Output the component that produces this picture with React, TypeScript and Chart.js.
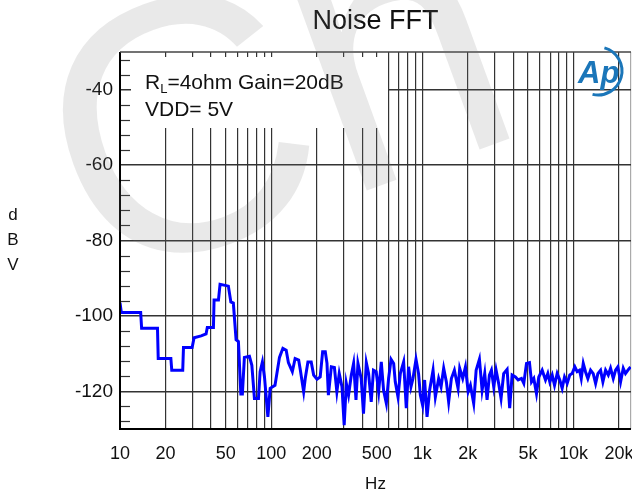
import React, { useEffect, useRef } from 'react';
import { Chart, registerables } from 'chart.js';

Chart.register(...registerables);

const FREQ_HZ = [
  10, 10.2, 13.7, 13.9, 17.7, 17.9, 21.7, 22.0, 26.0, 26.3, 30.0, 30.9, 34.4, 37.1, 37.8, 41.5, 41.9, 44.8,
  45.9, 49.6, 52.1, 54.1, 56.2, 58.6, 60.7, 63.0, 64.5, 66.5, 71.8, 74.5, 77.5, 82.4, 84.5, 87.5, 90.3, 95.1,
  98.5, 106, 113.5, 119.5, 125.7, 130, 138, 144, 152, 156, 164, 168, 175, 184, 191, 201, 211, 219, 228, 234,
  239, 250, 262, 272, 282, 294, 304, 314, 325, 339, 351, 364, 375, 394, 408, 426, 441, 459, 475, 495, 514,
  535, 554, 578, 598, 621, 646, 662, 690, 715, 752, 783, 811, 841, 867, 908, 944, 970, 1004, 1035, 1074,
  1117, 1177, 1219, 1282, 1330, 1384, 1442, 1493, 1556, 1629, 1723, 1766, 1849, 1928, 2009, 2079, 2186,
  2269, 2385, 2485, 2586, 2680, 2777, 2864, 2966, 3074, 3196, 3316, 3452, 3636, 3782, 3924, 4129, 4303,
  4526, 4688, 4886, 5112, 5274, 5460, 5689, 5892, 6203, 6526, 6761, 6969, 7228, 7488, 7798, 8113, 8413,
  8718, 9078, 9444, 9795, 10200, 10570, 10960, 11250, 11600, 12000, 12440, 12970, 13500, 14000, 14490,
  15100, 15640, 16300, 16980, 17580, 18320, 18970, 19650, 20480, 21330, 22080, 22910, 23840,
];

const LEVEL_DBV = [
  -96.5, -99.1, -99.1, -103.3, -103.3, -111.3, -111.3, -114.4, -114.4, -108.4, -108.4, -105.8, -105.3, -104.8,
  -103.1, -103.1, -95.8, -95.8, -91.6, -91.9, -92.1, -96.3, -96.6, -106.3, -106.8, -120.7, -120.7, -111,
  -110.7, -113.1, -121.9, -121.9, -114.8, -112.2, -116.2, -126.8, -119.2, -118.4, -111, -108.6, -109.1,
  -112.4, -114.8, -111.3, -111.7, -114.4, -120.1, -116.6, -112.2, -112.2, -115.7, -116.8, -116.2, -109.5,
  -109.5, -112.6, -121, -113.5, -113.7, -120.1, -115.3, -118.8, -129, -117.9, -121, -115.7, -112.6, -122.3,
  -112.6, -116.6, -125.9, -112.4, -115.3, -122.8, -114.4, -114.8, -120.1, -112.2, -119.7, -123.2, -116.6,
  -111.5, -112.6, -117.5, -121.5, -115.3, -112.2, -124.5, -113.5, -118.8, -116.6, -111.5, -115.3, -121,
  -123.7, -117, -126.8, -119.7, -114.4, -121.5, -116.6, -118.8, -113.9, -117.5, -122.8, -116.6, -114.4,
  -119.2, -113.9, -116.6, -113.5, -120.1, -118.4, -123.2, -114.4, -111.5, -119.7, -115.3, -122.3, -115.7,
  -114.4, -118.8, -114.4, -117.9, -121.9, -115.3, -114.2, -124.5, -115.7, -116.2, -117, -116.6, -117.9,
  -112.6, -112.4, -117.5, -116.6, -120.6, -116.2, -114.4, -117, -115.3, -117.5, -115.7, -118.4, -115.3,
  -117, -119.2, -116.2, -117.9, -115.7, -115.3, -113.5, -114.8, -114.4, -116.6, -112.6, -114.8, -116.6,
  -114.4, -115.3, -117.9, -115.3, -114.4, -117.5, -114.4, -115.7, -113.9, -116.6, -114.4, -113.5, -117.5,
  -113.9, -115.3, -114.4, -113.5,
];

const X_MIN_HZ = 10;
const X_MAX_HZ = 24000;
const X_GRID_HZ = [
  10, 20, 30, 40, 50, 60, 70, 80, 90,
  100, 200, 300, 400, 500, 600, 700, 800, 900,
  1000, 2000, 3000, 4000, 5000, 6000, 7000, 8000, 9000,
  10000, 20000, 24000,
];
const X_TICK_HZ = [10, 20, 50, 100, 200, 500, 1000, 2000, 5000, 10000, 20000];
const X_TICK_TEXT = ['10', '20', '50', '100', '200', '500', '1k', '2k', '5k', '10k', '20k'];
const Y_TICKS = [-120, -100, -80, -60, -40];
const Y_MINOR = [-128, -124, -116, -112, -108, -104, -96, -92, -88, -84, -76, -72, -68, -64, -56, -52, -48, -44, -36, -32];

const TITLE = 'Noise FFT';
const X_TITLE = 'Hz';
const Y_TITLE = ['d', 'B', 'V'];
const NOTE_LINE2 = 'VDD= 5V';
const WATERMARK = 'Ch';

const FONT = '"Liberation Sans", Arial, Helvetica, sans-serif';

const decorPlugin = {
  id: 'decor',
  beforeDatasetsDraw(chart: any) {
    const { ctx, chartArea: a, scales } = chart;
    ctx.save();
    ctx.fillStyle = '#ffffff';
    ctx.fillRect(a.left + 11, a.top + 5, 388 - (a.left + 11), 128 - (a.top + 5));
    ctx.strokeStyle = '#333';
    ctx.lineWidth = 1.2;
    for (const v of Y_MINOR) {
      const y = Math.round(scales.y.getPixelForValue(v)) + 0.5;
      ctx.beginPath();
      ctx.moveTo(a.left, y);
      ctx.lineTo(a.left + 10, y);
      ctx.stroke();
    }
    ctx.fillStyle = '#111';
    ctx.textBaseline = 'alphabetic';
    ctx.textAlign = 'left';
    ctx.font = `21px ${FONT}`;
    let x = 145;
    ctx.fillText('R', x, 89);
    x += ctx.measureText('R').width;
    ctx.font = `13px ${FONT}`;
    ctx.fillText('L', x, 93);
    x += ctx.measureText('L').width;
    ctx.font = `21px ${FONT}`;
    ctx.fillText('=4ohm Gain=20dB', x, 89);
    ctx.fillText(NOTE_LINE2, 145, 116);
    ctx.restore();
  },
  afterDraw(chart: any) {
    const { ctx, chartArea: a } = chart;
    ctx.save();
    ctx.strokeStyle = '#000';
    ctx.lineWidth = 2;
    ctx.beginPath();
    ctx.moveTo(a.left, a.top);
    ctx.lineTo(a.left, a.bottom);
    ctx.lineTo(a.right, a.bottom);
    ctx.stroke();
    ctx.strokeStyle = '#444';
    ctx.lineWidth = 1.5;
    ctx.beginPath();
    ctx.moveTo(a.left, a.top);
    ctx.lineTo(a.right, a.top);
    ctx.stroke();

    ctx.fillStyle = '#111';
    ctx.textAlign = 'center';
    ctx.textBaseline = 'middle';
    ctx.font = `27px ${FONT}`;
    ctx.fillText(TITLE, (a.left + a.right) / 2, 22);
    ctx.font = `17px ${FONT}`;
    ctx.fillText(X_TITLE, (a.left + a.right) / 2, 484);
    Y_TITLE.forEach((t, i) => ctx.fillText(t, 13, 215 + i * 25));

    // Ap logo
    ctx.fillStyle = '#1b76b9';
    ctx.font = `italic bold 31px ${FONT}`;
    ctx.textAlign = 'left';
    ctx.textBaseline = 'alphabetic';
    ctx.fillText('Ap', 578, 83);
    ctx.strokeStyle = '#1b76b9';
    ctx.lineWidth = 3;
    ctx.beginPath();
    ctx.arc(598, 71, 24, -1.3, 1.8);
    ctx.stroke();

    // watermark
    ctx.fillStyle = 'rgba(120,120,120,0.16)';
    ctx.font = `360px ${FONT}`;
    ctx.translate(99, 288);
    ctx.rotate(-20 * Math.PI / 180);
    ctx.fillText(WATERMARK, 0, 0);
    ctx.restore();
  },
};

export default function App() {
  const ref = useRef<HTMLCanvasElement>(null);
  useEffect(() => {
    document.body.style.margin = '0';
    const ctx = ref.current!.getContext('2d')!;
    const chart = new Chart(ctx, {
      type: 'line',
      data: {
        datasets: [
          {
            data: FREQ_HZ.map((f, i) => ({ x: f, y: LEVEL_DBV[i] })),
            borderColor: '#0000ff',
            borderWidth: 3,
            pointRadius: 0,
            tension: 0,
            fill: false,
          },
        ],
      },
      options: {
        animation: false,
        responsive: false,
        maintainAspectRatio: false,
        layout: { padding: { left: 0, right: 1, top: 52, bottom: 0 } },
        plugins: { legend: { display: false }, tooltip: { enabled: false }, title: { display: false } },
        scales: {
          x: {
            type: 'logarithmic',
            min: X_MIN_HZ,
            max: X_MAX_HZ,
            afterBuildTicks: (s: any) => {
              s.ticks = X_GRID_HZ.map((v) => ({ value: v }));
            },
            afterFit: (s: any) => {
              s.height = 63;
              s.paddingLeft = 0;
              s.paddingRight = 0;
            },
            grid: {
              color: (c: any) => (c.tick && c.tick.value === X_MAX_HZ ? '#aaa' : '#333'),
              lineWidth: 1.2,
              drawTicks: false,
            },
            border: { display: false },
            ticks: {
              autoSkip: false,
              maxRotation: 0,
              minRotation: 0,
              padding: 14,
              color: '#111',
              font: { family: FONT, size: 18 },
              callback: (v: any) => {
                const i = X_TICK_HZ.indexOf(Number(v));
                return i >= 0 ? X_TICK_TEXT[i] : '';
              },
            },
          },
          y: {
            type: 'linear',
            min: -130,
            max: -30,
            afterBuildTicks: (s: any) => {
              s.ticks = Y_TICKS.map((v) => ({ value: v }));
            },
            afterFit: (s: any) => {
              s.width = 120;
              s.paddingTop = 0;
              s.paddingBottom = 0;
            },
            grid: { color: '#333', lineWidth: 1.5, drawTicks: false },
            border: { display: false },
            ticks: {
              padding: 7,
              color: '#111',
              font: { family: FONT, size: 19 },
              callback: (v: any) => String(v),
            },
          },
        },
      },
      plugins: [decorPlugin],
    });
    return () => chart.destroy();
  }, []);
  return (
    <div style={{ position: 'absolute', left: 0, top: 0, width: 632, height: 492, background: '#fff' }}>
      <canvas ref={ref} width={632} height={492} style={{ width: 632, height: 492, display: 'block' }} />
    </div>
  );
}
